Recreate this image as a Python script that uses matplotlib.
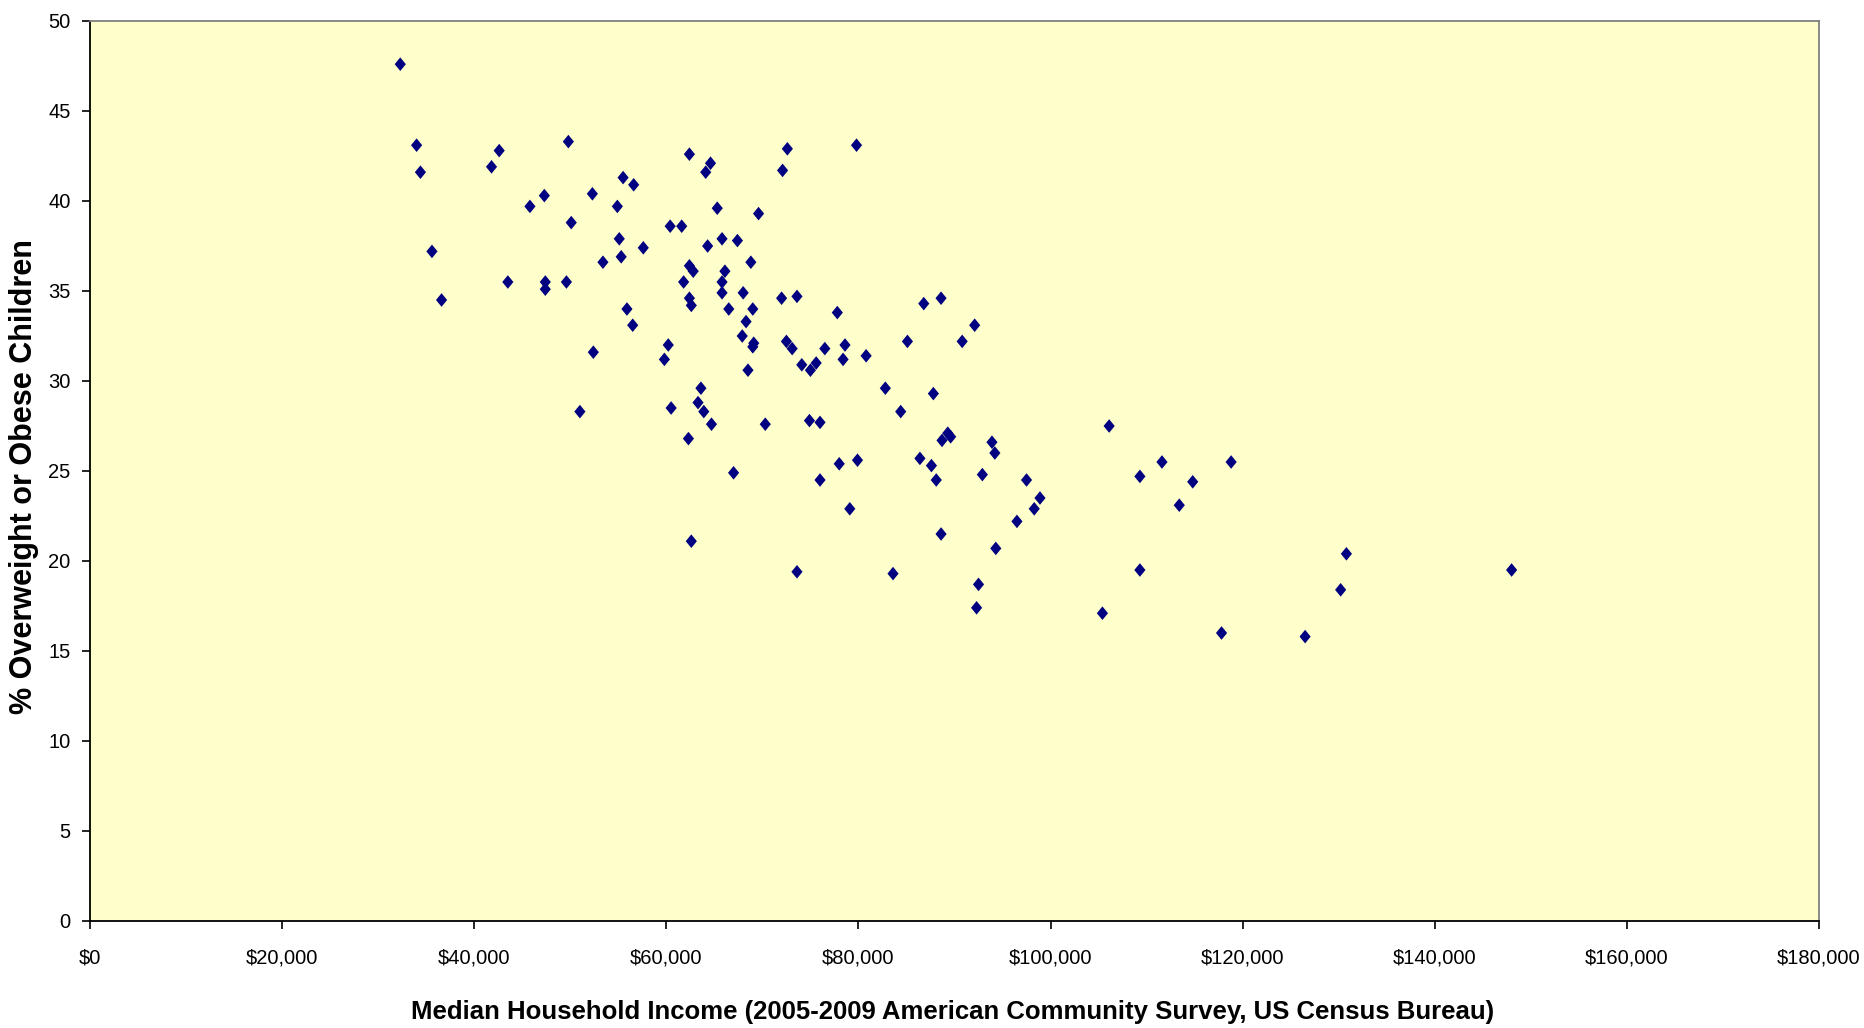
import matplotlib
matplotlib.use("Agg")
import matplotlib.pyplot as plt
from matplotlib import font_manager
from matplotlib.ticker import FuncFormatter, MultipleLocator

# Median household income (thousands of dollars) per area
income_k = [
    32.3, 34.0, 34.4, 35.6, 36.6, 41.8, 42.6, 43.5, 45.8, 47.3,
    47.4, 47.4, 49.8, 50.1, 49.6, 51.0, 52.3, 52.4, 53.4, 54.9,
    55.1, 55.3, 55.5, 55.9, 56.5, 56.6, 57.6, 59.8, 60.2, 60.5,
    60.4, 61.6, 61.8, 62.3, 62.4, 62.4, 62.8, 62.4, 62.6, 62.6,
    63.3, 63.6, 63.9, 64.1, 64.6, 64.3, 64.7, 65.3, 65.8, 65.8,
    65.8, 66.1, 66.5, 67.0, 67.4, 68.0, 67.9, 68.3, 68.5, 68.8,
    69.0, 69.1, 69.0, 69.6, 70.3, 72.1, 72.0, 72.6, 72.5, 73.1,
    73.6, 73.6, 74.1, 75.0, 74.9, 75.6, 76.0, 76.0, 76.5, 77.8,
    78.0, 78.4, 78.6, 79.1, 79.8, 79.9, 80.8, 82.8, 83.6, 84.4,
    85.1, 86.4, 86.8, 87.6, 87.8, 88.1, 88.6, 88.6, 88.7, 89.3,
    89.6, 90.8, 92.1, 92.5, 92.3, 92.9, 93.9, 94.2, 94.3, 96.5,
    97.5, 98.3, 98.9, 105.4, 106.1, 109.3, 109.3, 111.6, 113.4, 114.8,
    117.8, 118.8, 126.5, 130.2, 130.8, 148.0,
]

# Share of children who are overweight or obese (%)
pct_overweight = [
    47.6, 43.1, 41.6, 37.2, 34.5, 41.9, 42.8, 35.5, 39.7, 40.3,
    35.5, 35.1, 43.3, 38.8, 35.5, 28.3, 40.4, 31.6, 36.6, 39.7,
    37.9, 36.9, 41.3, 34.0, 33.1, 40.9, 37.4, 31.2, 32.0, 28.5,
    38.6, 38.6, 35.5, 26.8, 42.6, 36.4, 36.1, 34.6, 34.2, 21.1,
    28.8, 29.6, 28.3, 41.6, 42.1, 37.5, 27.6, 39.6, 35.5, 37.9,
    34.9, 36.1, 34.0, 24.9, 37.8, 34.9, 32.5, 33.3, 30.6, 36.6,
    34.0, 32.1, 31.9, 39.3, 27.6, 41.7, 34.6, 42.9, 32.2, 31.8,
    34.7, 19.4, 30.9, 30.6, 27.8, 31.0, 24.5, 27.7, 31.8, 33.8,
    25.4, 31.2, 32.0, 22.9, 43.1, 25.6, 31.4, 29.6, 19.3, 28.3,
    32.2, 25.7, 34.3, 25.3, 29.3, 24.5, 34.6, 21.5, 26.7, 27.1,
    26.9, 32.2, 33.1, 18.7, 17.4, 24.8, 26.6, 26.0, 20.7, 22.2,
    24.5, 22.9, 23.5, 17.1, 27.5, 24.7, 19.5, 25.5, 23.1, 24.4,
    16.0, 25.5, 15.8, 18.4, 20.4, 19.5,
]

x_label = "Median Household Income (2005-2009 American Community Survey, US Census Bureau)"
y_label = "% Overweight or Obese Children"

available = {f.name for f in font_manager.fontManager.ttflist}
base_font = "Liberation Sans" if "Liberation Sans" in available else "DejaVu Sans"
narrow_font = "Liberation Sans Narrow" if "Liberation Sans Narrow" in available else base_font
plt.rcParams["font.family"] = [base_font, "DejaVu Sans"]

fig = plt.figure(figsize=(18.64, 10.28), dpi=100, facecolor="white")
ax = fig.add_axes([90 / 1864, 1 - 921 / 1028, (1819 - 90) / 1864, (921 - 21) / 1028])
ax.set_facecolor("#FFFFCC")

# Excel-style diamond, a little taller than wide
diamond = [(0, 1), (0.82, 0), (0, -1), (-0.82, 0), (0, 1)]
x_dollars = [v * 1000 for v in income_k]
ax.scatter(x_dollars, pct_overweight, marker=diamond, s=9.8 ** 2,
           color="#000080", edgecolors="none", zorder=3)

ax.set_xlim(0, 180000)
ax.set_ylim(0, 50)
ax.xaxis.set_major_locator(MultipleLocator(20000))
ax.yaxis.set_major_locator(MultipleLocator(5))
ax.xaxis.set_major_formatter(FuncFormatter(lambda v, p: f"${v:,.0f}"))
ax.yaxis.set_major_formatter(FuncFormatter(lambda v, p: f"{v:.0f}"))

ax.tick_params(axis="both", direction="out", length=6, width=1.2,
               color="black", labelsize=14.5, labelcolor="black")
ax.tick_params(axis="x", pad=14)
ax.tick_params(axis="y", pad=8)

for side in ("left", "bottom"):
    ax.spines[side].set_color("black")
    ax.spines[side].set_linewidth(1.3)
for side in ("top", "right"):
    ax.spines[side].set_color("#808080")
    ax.spines[side].set_linewidth(1.3)

narrow = narrow_font != base_font
fig.text(953 / 1864, 1 - 1012 / 1028, x_label, ha="center", va="center",
         fontsize=20 if narrow else 18.5, fontweight="bold",
         family=[narrow_font, "DejaVu Sans"])
fig.text(24 / 1864, 1 - 477 / 1028, y_label, ha="center", va="center",
         rotation=90, fontsize=22, fontweight="bold",
         family=[narrow_font, "DejaVu Sans"])

fig.savefig("out.png", dpi=100, facecolor="white")
